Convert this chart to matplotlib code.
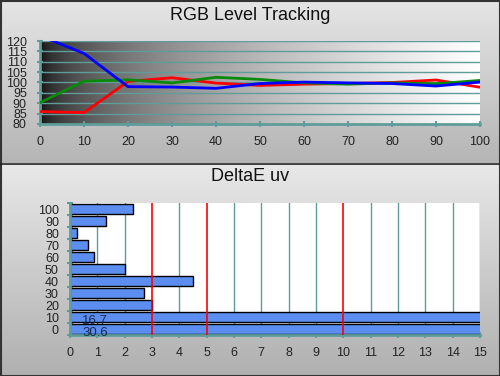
import numpy as np
import matplotlib
matplotlib.use('Agg')
import matplotlib.pyplot as plt

plt.rcParams['font.family'] = ['Liberation Sans', 'DejaVu Sans']

# RGB level tracking data
levels = [0, 10, 20, 30, 40, 50, 60, 70, 80, 90, 100]
red = [86, 85.5, 100.5, 102.3, 99.7, 98.6, 99.2, 99.5, 100, 101.2, 97.7]
green = [90.3, 100.6, 101.3, 99.8, 102.5, 101.5, 99.8, 99.2, 99.8, 99.4, 101]
blue = [122.5, 114, 98, 97.8, 97.2, 99.5, 100.2, 99.8, 99.5, 98.3, 100.2]
y_ticks_top = [80, 85, 90, 95, 100, 105, 110, 115, 120]

# DeltaE uv data
de_levels = ['0', '10', '20', '30', '40', '50', '60', '70', '80', '90', '100']
de_values = [30.6, 16.7, 2.99, 2.72, 4.51, 2.02, 0.87, 0.67, 0.24, 1.3, 2.32]
de_marks = [3, 5, 10]

teal = '#5f9c9a'

fig = plt.figure(figsize=(5.0, 3.76), dpi=100)

# panel backgrounds (vertical gray gradient)
bg = fig.add_axes([0, 0, 1, 1], zorder=-10)
bg.set_axis_off()
grad = np.linspace(0, 1, 200).reshape(-1, 1)
top_panel = 0.90 - 0.19 * grad
bg.imshow(np.dstack([top_panel] * 3), extent=[0, 1, 1 - 163 / 376, 1],
          aspect='auto', transform=bg.transAxes)
bot_panel = 0.91 - 0.22 * grad
bg.imshow(np.dstack([bot_panel] * 3), extent=[0, 1, 0, 1 - 164 / 376],
          aspect='auto', transform=bg.transAxes)
bg.set_xlim(0, 1)
bg.set_ylim(0, 1)
bg.axhline(1 - 163.5 / 376, color='#222222', lw=1.2)
bg.add_patch(plt.Rectangle((0.001, 0.001), 0.998, 0.997, fill=False,
                           ec='#333333', lw=1.5, transform=bg.transAxes))

fig.text(0.5, 0.958, 'RGB Level Tracking', ha='center', va='center',
         fontsize=13, color='#111111')
fig.text(0.5, 0.530, 'DeltaE uv', ha='center', va='center',
         fontsize=13, color='#111111')

# ---- top chart ----
ax = fig.add_axes([0.08, 1 - 124 / 376, 0.88, 83 / 376])
xg = np.linspace(0, 1, 300).reshape(1, -1)
shade = 0.04 + 0.96 * xg ** 0.5
ax.imshow(np.dstack([shade] * 3), extent=[0, 100, 80, 120], aspect='auto',
          zorder=0)
for yv in y_ticks_top[1:]:
    ax.axhline(yv, color=teal, lw=1, zorder=1)
ax.plot(levels, red, color='#ff0000', lw=2, zorder=3)
ax.plot(levels, green, color='#0a8a0a', lw=2, zorder=3)
ax.plot(levels, blue, color='#0000ff', lw=2, zorder=4)
ax.set_xlim(0, 100)
ax.set_ylim(80, 120)
ax.set_xticks(levels)
ax.set_yticks(y_ticks_top)
for s in ['top', 'right']:
    ax.spines[s].set_visible(False)
for s in ['left', 'bottom']:
    ax.spines[s].set_color(teal)
    ax.spines[s].set_linewidth(2)
ax.tick_params(axis='both', colors=teal, direction='inout', length=5,
               width=1.5, labelcolor='#222222', labelsize=9)
ax.tick_params(axis='y', pad=7, labelsize=9)
ax.tick_params(axis='x', pad=6)

# ---- bottom chart ----
ax2 = fig.add_axes([0.14, 1 - 335 / 376, 0.82, 132 / 376])
ax2.set_facecolor('white')
pos = np.arange(len(de_levels))
for xv in range(1, 16):
    if xv in de_marks:
        ax2.axvline(xv, color='#ff0000', lw=1.2, zorder=3)
    else:
        ax2.axvline(xv, color=teal, lw=1, zorder=0)
ax2.barh(pos, de_values, height=0.85, color='#5b8ef0', edgecolor='black',
         lw=1, zorder=2)
for p, v in zip(pos, de_values):
    if v > 15:
        ax2.text(0.45, p - 0.3, f'{v:.1f}', va='center', ha='left',
                 fontsize=9.5, color='#1a2a50', zorder=4)
ax2.set_xlim(0, 15)
ax2.set_ylim(-0.5, len(de_levels) - 0.5)
ax2.set_xticks(range(16))
ax2.set_yticks(np.arange(-0.5, len(de_levels)))
ax2.set_yticklabels([])
ax2.set_yticks(pos, minor=True)
ax2.set_yticklabels(de_levels, minor=True)
for s in ['top', 'right']:
    ax2.spines[s].set_visible(False)
for s in ['left', 'bottom']:
    ax2.spines[s].set_color(teal)
    ax2.spines[s].set_linewidth(2)
ax2.tick_params(axis='both', colors=teal, direction='inout', length=5,
                width=1.5, labelcolor='#222222', labelsize=9)
ax2.tick_params(axis='y', which='minor', length=0, pad=8,
                labelcolor='#222222', labelsize=9)
ax2.tick_params(axis='x', pad=6)

fig.savefig('out.png', dpi=100)
